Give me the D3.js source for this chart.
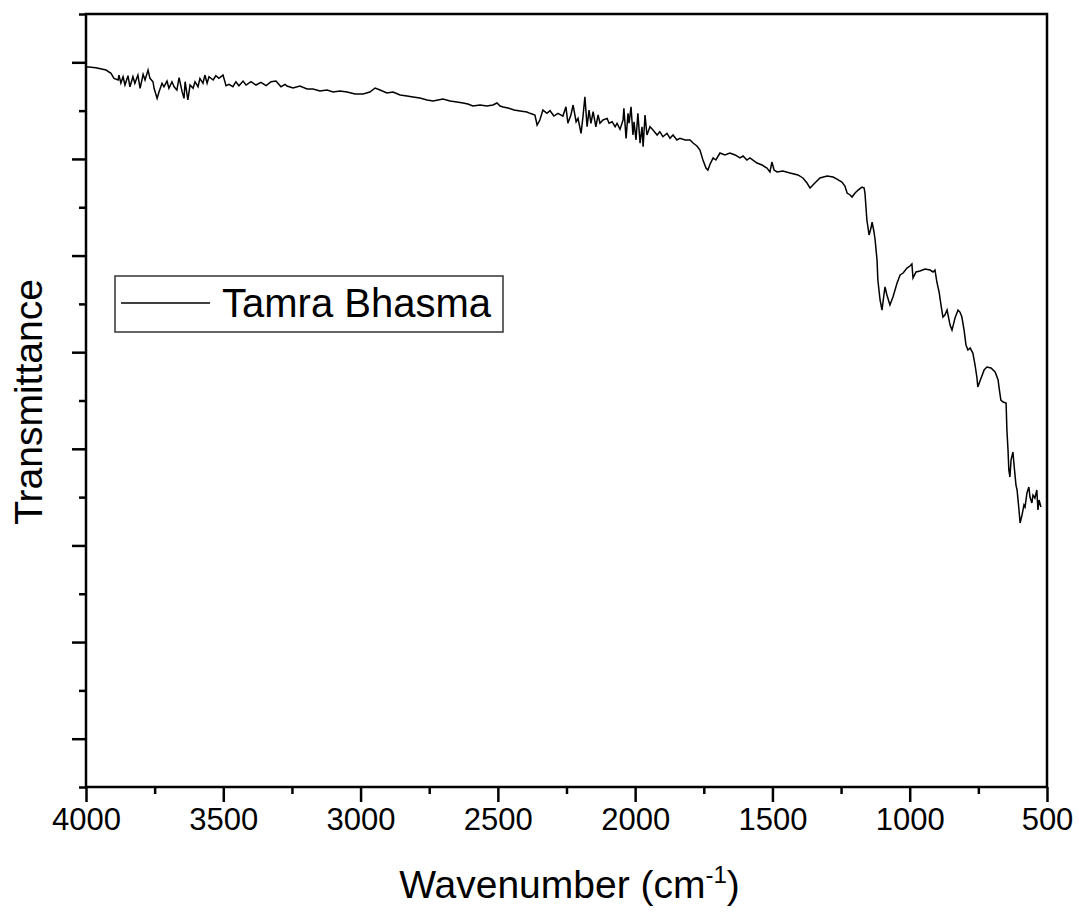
<!DOCTYPE html>
<html>
<head>
<meta charset="utf-8">
<script src="https://cdn.jsdelivr.net/npm/d3@7"></script>
<style>
  html, body { margin: 0; padding: 0; background: #fff; }
  svg text { font-family: "Liberation Sans", Arial, sans-serif; fill: #000; }
</style>
</head>
<body>
<div id="chart"></div>
<script>
// FTIR spectrum, values
const wavenumber = [
  4000, 3964, 3927, 3909, 3898, 3883, 3880, 3873, 3865, 3858, 3847, 3840, 3829, 3822, 3811, 3803,
  3792, 3785, 3774, 3767, 3756, 3752, 3741, 3734, 3723, 3716, 3705, 3698, 3687, 3679, 3669, 3661,
  3650, 3643, 3639, 3629, 3621, 3610, 3603, 3592, 3585, 3574, 3567, 3559, 3552, 3537, 3527, 3516,
  3501, 3490, 3479, 3465, 3454, 3443, 3428, 3417, 3399, 3381, 3363, 3344, 3326, 3308, 3290, 3275,
  3268, 3246, 3221, 3195, 3173, 3148, 3122, 3100, 3075, 3049, 3020, 2991, 2966, 2947, 2929, 2904,
  2882, 2856, 2831, 2809, 2784, 2758, 2736, 2718, 2700, 2674, 2649, 2627, 2609, 2591, 2565, 2540,
  2518, 2503, 2492, 2481, 2463, 2441, 2419, 2394,
  2383, 2365, 2357, 2347, 2336, 2321, 2310, 2296, 2281, 2263, 2252, 2245, 2234, 2226, 2215, 2208,
  2197, 2190, 2183, 2175, 2168, 2161, 2153, 2143, 2135, 2128, 2117, 2102, 2095, 2084, 2073, 2066,
  2055, 2044, 2041, 2033, 2026, 2022, 2015, 2008, 2004, 1997, 1990, 1982, 1975, 1971, 1964, 1957,
  1946, 1935, 1920, 1910, 1899, 1884, 1873, 1862, 1848, 1837,
  1818, 1800, 1789, 1775, 1764, 1753, 1742, 1735, 1727, 1716, 1706, 1691, 1673, 1655, 1636, 1618,
  1607, 1593, 1582, 1556, 1538, 1520, 1509, 1502, 1494, 1483, 1462, 1436, 1407, 1389, 1374, 1363,
  1349, 1327, 1301, 1279, 1265, 1247, 1236, 1228, 1217, 1210, 1199, 1188, 1174, 1166, 1163, 1156,
  1148, 1141, 1137, 1130, 1126, 1119, 1116, 1108, 1101, 1094, 1090, 1083, 1072, 1061, 1046, 1035,
  1024, 1010, 999, 992, 988, 977, 963, 944, 926, 915, 908, 901, 893, 886, 879, 872,
  864, 853, 846, 835, 824, 817, 810, 802, 795, 788, 780, 770, 762, 755, 752, 740,
  729, 719, 704, 689, 678, 675, 668, 660, 649, 646, 642, 639, 635, 631, 624, 620,
  613, 609, 602, 598, 591, 584, 580, 573, 566, 562, 555, 551, 544, 537, 533, 529, 522
];
const transmittance = [
  79.54, 79.44, 79.20, 78.86, 78.34, 78.17, 78.68, 77.86, 78.51, 77.65, 78.61, 77.47, 78.51, 77.83, 78.68, 77.31,
  78.76, 78.17, 79.20, 78.34, 77.99, 77.31, 76.27, 76.96, 77.83, 77.47, 78.06, 77.31, 77.99, 77.47, 77.13, 78.41,
  76.96, 76.27, 77.99, 76.10, 77.65, 77.31, 77.99, 77.47, 78.34, 77.83, 78.68, 77.83, 78.51, 78.17, 78.61, 78.34,
  78.68, 77.58, 77.72, 77.47, 77.99, 77.58, 78.06, 77.65, 77.99, 77.65, 77.93, 77.58, 77.99, 78.06, 77.47, 77.72,
  77.55, 77.34, 77.55, 77.24, 77.24, 77.03, 77.13, 76.93, 77.03, 76.93, 76.72, 76.72, 76.93, 77.34, 77.13, 76.82,
  76.93, 76.62, 76.51, 76.41, 76.30, 76.10, 75.99, 76.10, 76.20, 75.99, 75.89, 75.79, 75.68, 75.48, 75.58, 75.48,
  75.58, 75.79, 75.48, 75.37, 75.27, 75.06, 74.96, 74.86,
  74.72, 74.55, 73.51, 74.03, 75.06, 74.72, 74.99, 74.44, 74.72, 74.44, 75.40, 73.69, 74.55, 75.58, 73.85, 74.20,
  72.65, 74.37, 76.44, 73.33, 75.06, 73.69, 74.89, 73.33, 74.55, 73.69, 74.03, 74.20, 73.69, 73.85, 73.33, 73.69,
  73.06, 74.03, 75.24, 72.13, 74.72, 73.69, 75.40, 72.48, 73.85, 71.96, 74.72, 71.62, 73.33, 71.26, 74.55, 72.48,
  73.33, 72.99, 72.48, 72.82, 72.30, 72.65, 72.13, 72.48, 71.96, 72.13,
  71.96, 71.96, 71.65, 71.34, 70.92, 69.89, 69.06, 68.85, 69.47, 70.10, 69.89, 70.61, 70.41, 70.61, 70.41, 70.10,
  70.30, 69.89, 70.10, 69.58, 69.37, 69.06, 68.65, 69.68, 68.85, 68.65, 68.75, 68.54, 68.34, 68.03, 67.51, 66.99,
  67.40, 68.03, 68.23, 68.13, 67.92, 67.61, 67.20, 66.47, 66.27, 66.06, 66.47, 66.78, 67.09, 66.99, 66.47, 63.68,
  62.13, 62.85, 63.47, 62.44, 61.61, 59.54, 57.47, 55.40, 54.36, 55.92, 56.75, 55.92, 54.88, 55.71, 57.16, 57.99,
  58.19, 58.71, 58.92, 59.13, 57.68, 58.30, 58.40, 58.61, 58.50, 58.30, 58.50, 57.26, 56.23, 54.88, 53.64, 53.85,
  54.36, 52.81, 52.29, 53.54, 54.36, 54.15, 53.64, 52.29, 50.74, 50.23, 50.43, 49.91, 48.67, 47.33, 46.40, 47.33,
  48.16, 48.47, 48.36, 47.95, 47.12, 46.40, 45.05, 44.84, 44.74, 41.95, 39.88, 37.81, 37.08, 38.84, 39.67, 38.32,
  36.25, 35.74, 33.67, 32.32, 33.15, 34.18, 33.97, 35.43, 36.05, 35.01, 34.39, 35.22, 34.91, 35.74, 33.67, 34.70, 33.98
];

const xTicksMajor = [4000, 3500, 3000, 2500, 2000, 1500, 1000, 500];
const xTicksMinor = [3750, 3250, 2750, 2250, 1750, 1250, 750];
const yTicksMajor = [10, 20, 30, 40, 50, 60, 70, 80];
const yTicksMinor = [5, 15, 25, 35, 45, 55, 65, 75, 85];
const seriesName = 'Tamra Bhasma';

const width = 1079;
const height = 913;
const plotL = 86, plotR = 1047, plotT = 14, plotB = 787;

const svg = d3.select('#chart')
  .append('svg')
  .attr('width', width)
  .attr('height', height);

const x = d3.scaleLinear().domain([4000, 500]).range([plotL, plotR]);
const y = d3.scaleLinear().domain([5, 85]).range([plotB, plotT]);

// minor ticks first, then major ticks with labels
svg.append('g')
  .attr('transform', `translate(0,${plotB})`)
  .call(d3.axisBottom(x).tickValues(xTicksMinor).tickSize(7).tickSizeOuter(0).tickFormat(''))
  .call(g => g.select('.domain').remove())
  .call(g => g.selectAll('line').attr('stroke', '#000').attr('stroke-width', 2.5));

svg.append('g')
  .attr('transform', `translate(0,${plotB})`)
  .call(d3.axisBottom(x).tickValues(xTicksMajor).tickSize(15).tickSizeOuter(0)
    .tickPadding(6).tickFormat(d3.format('d')))
  .call(g => g.select('.domain').remove())
  .call(g => g.selectAll('line').attr('stroke', '#000').attr('stroke-width', 2.5))
  .call(g => g.selectAll('text')
    .attr('font-size', '31px')
    .attr('font-family', '"Liberation Sans", Arial, sans-serif')
    .attr('fill', '#000'));

svg.append('g')
  .attr('transform', `translate(${plotL},0)`)
  .call(d3.axisLeft(y).tickValues(yTicksMinor).tickSize(7).tickSizeOuter(0).tickFormat(''))
  .call(g => g.select('.domain').remove())
  .call(g => g.selectAll('line').attr('stroke', '#000').attr('stroke-width', 2.5));

svg.append('g')
  .attr('transform', `translate(${plotL},0)`)
  .call(d3.axisLeft(y).tickValues(yTicksMajor).tickSize(14).tickSizeOuter(0).tickFormat(''))
  .call(g => g.select('.domain').remove())
  .call(g => g.selectAll('line').attr('stroke', '#000').attr('stroke-width', 2.5));

// frame
svg.append('rect')
  .attr('x', plotL).attr('y', plotT)
  .attr('width', plotR - plotL).attr('height', plotB - plotT)
  .attr('fill', 'none')
  .attr('stroke', '#000')
  .attr('stroke-width', 2.5);

// spectrum
const pts = wavenumber.map((w, i) => [w, transmittance[i]]);
svg.append('path')
  .datum(pts)
  .attr('fill', 'none')
  .attr('stroke', '#000')
  .attr('stroke-width', 1.5)
  .attr('stroke-linejoin', 'miter')
  .attr('d', d3.line().x(d => x(d[0])).y(d => y(d[1])));

// legend
const leg = svg.append('g');
leg.append('rect')
  .attr('x', 115).attr('y', 276)
  .attr('width', 388).attr('height', 56)
  .attr('fill', '#fff')
  .attr('stroke', '#333')
  .attr('stroke-width', 1.5);
leg.append('line')
  .attr('x1', 121).attr('x2', 210)
  .attr('y1', 303).attr('y2', 303)
  .attr('stroke', '#000')
  .attr('stroke-width', 1.4);
leg.append('text')
  .attr('x', 222).attr('y', 317)
  .attr('font-size', '40px')
  .text(seriesName);

// axis titles
const xt = svg.append('text')
  .attr('x', (plotL + plotR) / 2 + 3).attr('y', 898)
  .attr('text-anchor', 'middle')
  .attr('font-size', '39px');
xt.append('tspan').text('Wavenumber (cm');
xt.append('tspan').attr('font-size', '24px').attr('dy', -15).text('-1');
xt.append('tspan').attr('dy', 15).text(')');

svg.append('text')
  .attr('transform', `translate(42,402) rotate(-90)`)
  .attr('text-anchor', 'middle')
  .attr('font-size', '39px')
  .text('Transmittance');
</script>
</body>
</html>
